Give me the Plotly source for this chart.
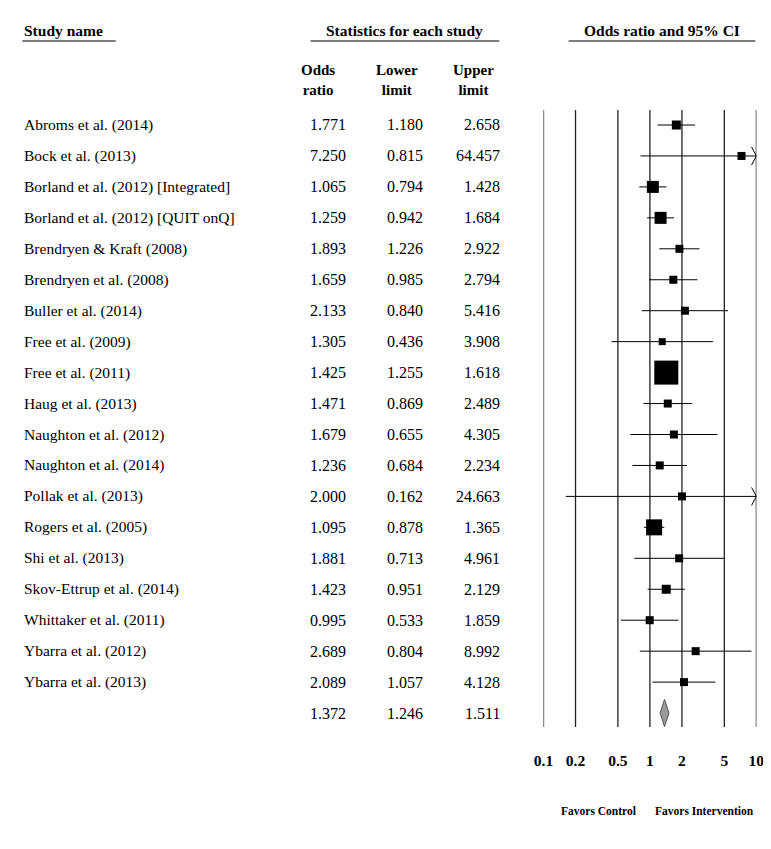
import math
import plotly.graph_objects as go

studies = [
    "Abroms et al. (2014)", "Bock et al. (2013)", "Borland et al. (2012) [Integrated]",
    "Borland et al. (2012) [QUIT onQ]", "Brendryen & Kraft (2008)", "Brendryen et al. (2008)",
    "Buller et al. (2014)", "Free et al. (2009)", "Free et al. (2011)", "Haug et al. (2013)",
    "Naughton et al. (2012)", "Naughton et al. (2014)", "Pollak et al. (2013)",
    "Rogers et al. (2005)", "Shi et al. (2013)", "Skov-Ettrup et al. (2014)",
    "Whittaker et al. (2011)", "Ybarra et al. (2012)", "Ybarra et al. (2013)",
]
odds_ratio = [1.771, 7.250, 1.065, 1.259, 1.893, 1.659, 2.133, 1.305, 1.425, 1.471,
              1.679, 1.236, 2.000, 1.095, 1.881, 1.423, 0.995, 2.689, 2.089]
lower_limit = [1.180, 0.815, 0.794, 0.942, 1.226, 0.985, 0.840, 0.436, 1.255, 0.869,
               0.655, 0.684, 0.162, 0.878, 0.713, 0.951, 0.533, 0.804, 1.057]
upper_limit = [2.658, 64.457, 1.428, 1.684, 2.922, 2.794, 5.416, 3.908, 1.618, 2.489,
               4.305, 2.234, 24.663, 1.365, 4.961, 2.129, 1.859, 8.992, 4.128]
summary_or, summary_lo, summary_hi = 1.372, 1.246, 1.511
tick_vals = [0.1, 0.2, 0.5, 1, 2, 5, 10]
tick_text = ["0.1", "0.2", "0.5", "1", "2", "5", "10"]

# style: marker size (px) per study, reflecting study weight
marker_px = [9, 8, 12, 12, 8, 8, 8, 7, 24, 8, 8, 8, 8, 16, 8, 9, 8, 8, 8]

W, H = 771, 849
SERIF = "Liberation Serif"

# empirical page-to-figure correction (observed render offset/scale)
SX, OX = 0.9726, 19.7
OY = 8.0

def fx(x):  # target pixel x -> figure pixel x
    return (x - OX) / SX

def fy(y):  # target pixel y -> figure pixel y
    return y - OY

def px(x):
    return fx(x) / W

def py(y):
    return 1 - fy(y) / H

ROW0, ROWH = fy(125), 30.95
PLOT_TOP, PLOT_BOT = fy(110), fy(727)
X_LEFT, X_RIGHT = fx(543), fx(755)

XMIN, XMAX = tick_vals[0], tick_vals[-1]
n = len(studies)
rows = list(range(n))
summary_row = n

fig = go.Figure()

# CI lines
cx, cy = [], []
arrow_x, arrow_y = [], []
back = 10 ** (-0.045)
for i in rows:
    lo = max(lower_limit[i], XMIN)
    hi = min(upper_limit[i], XMAX)
    cx += [lo, hi, None]
    cy += [i, i, None]
    if upper_limit[i] > XMAX:
        arrow_x += [XMAX * back, XMAX, XMAX * back, None]
        arrow_y += [i - 0.29, i, i + 0.29, None]
    if lower_limit[i] < XMIN:
        arrow_x += [XMIN / back, XMIN, XMIN / back, None]
        arrow_y += [i - 0.29, i, i + 0.29, None]

fig.add_trace(go.Scatter(x=cx, y=cy, mode="lines", line=dict(color="black", width=1),
                         hoverinfo="skip", cliponaxis=False))
fig.add_trace(go.Scatter(x=arrow_x, y=arrow_y, mode="lines", line=dict(color="black", width=1),
                         hoverinfo="skip", cliponaxis=False))
fig.add_trace(go.Scatter(x=odds_ratio, y=rows, mode="markers",
                         marker=dict(symbol="square", size=marker_px, color="black",
                                     opacity=1, line=dict(width=0)), cliponaxis=False))
# summary diamond
fig.add_trace(go.Scatter(
    x=[summary_lo, summary_or, summary_hi, summary_or, summary_lo],
    y=[summary_row, summary_row - 0.44, summary_row, summary_row + 0.44, summary_row],
    mode="lines", fill="toself", fillcolor="#9a9a9a",
    line=dict(color="#555555", width=1), cliponaxis=False))

# vertical reference lines at the tick values
for v in tick_vals:
    fig.add_shape(type="line", xref="x", yref="y domain", x0=v, x1=v, y0=0, y1=1,
                  line=dict(color="#222222", width=1.3), layer="below")

ann = []
name_font = dict(family=SERIF, size=15.5, color="black")
num_font = dict(family=SERIF, size=16, color="black")

def fmt(v):
    return f"{v:.3f}"

all_rows = rows + [summary_row]
ors = odds_ratio + [summary_or]
los = lower_limit + [summary_lo]
his = upper_limit + [summary_hi]
for i in all_rows:
    if i < n:
        ann.append(dict(x=px(24), y=i, xref="paper", yref="y", text=studies[i],
                        xanchor="left", yanchor="middle", showarrow=False, font=name_font))
    for col_x, vals in ((348, ors), (425, los), (502, his)):
        ann.append(dict(x=px(col_x), y=i, xref="paper", yref="y", text=fmt(vals[i]),
                        xanchor="right", yanchor="middle", showarrow=False, font=num_font))

# headers
head_font = dict(family=SERIF, size=15.5, color="black", weight="bold")
ann.append(dict(x=px(24), y=py(31), xref="paper", yref="paper", text="Study name",
                xanchor="left", yanchor="middle", showarrow=False, font=head_font))
ann.append(dict(x=px(405), y=py(31), xref="paper", yref="paper", text="Statistics for each study",
                xanchor="center", yanchor="middle", showarrow=False, font=head_font))
ann.append(dict(x=px(661), y=py(31), xref="paper", yref="paper", text="Odds ratio and 95% CI",
                xanchor="center", yanchor="middle", showarrow=False, font=head_font))
col_font = dict(family=SERIF, size=15, color="black", weight="bold")
for cx_, t in ((318, "Odds<br>ratio"), (397, "Lower<br>limit"), (473, "Upper<br>limit")):
    ann.append(dict(x=px(cx_), y=py(80), xref="paper", yref="paper", text=t,
                    xanchor="center", yanchor="middle", showarrow=False, font=col_font))

fav_font = dict(family=SERIF, size=11.5, color="black", weight="bold")
ann.append(dict(x=px(637), y=py(811), xref="paper", yref="paper", text="Favors Control",
                xanchor="right", yanchor="middle", showarrow=False, font=fav_font))
ann.append(dict(x=px(652), y=py(811), xref="paper", yref="paper", text="Favors Intervention",
                xanchor="left", yanchor="middle", showarrow=False, font=fav_font))

for x0, x1 in ((24, 117), (311, 499), (568, 754)):
    fig.add_shape(type="line", xref="paper", yref="paper", x0=px(x0), x1=px(x1),
                  y0=py(41), y1=py(41), line=dict(color="black", width=1.2))

fig.update_layout(
    width=W, height=H, autosize=False,
    margin=dict(l=0, r=0, t=0, b=0),
    paper_bgcolor="white", plot_bgcolor="white",
    showlegend=False,
    annotations=ann,
    xaxis=dict(type="log", range=[math.log10(XMIN), math.log10(XMAX)],
               domain=[X_LEFT / W, X_RIGHT / W],
               tickvals=tick_vals, ticktext=tick_text, showgrid=False, zeroline=False,
               showline=False, ticks="", ticklabelstandoff=22,
               tickfont=dict(family=SERIF, size=15.5, color="black", weight="bold"),
               fixedrange=True),
    yaxis=dict(range=[(PLOT_BOT - ROW0) / ROWH, (PLOT_TOP - ROW0) / ROWH],
               domain=[1 - PLOT_BOT / H, 1 - PLOT_TOP / H], visible=False, fixedrange=True),
)

fig.write_html("out.html")
